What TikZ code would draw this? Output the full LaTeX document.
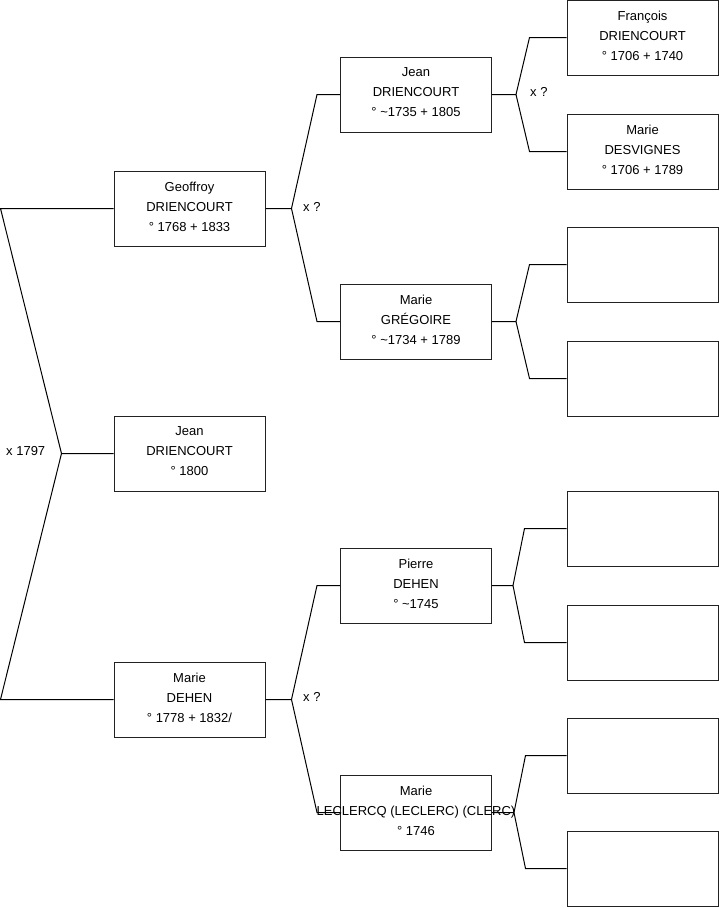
\documentclass[tikz,border=0pt]{standalone}
\usepackage{fontspec}
\setmainfont{Liberation Sans}
\usepackage{tikz}
\definecolor{boxline}{HTML}{222222}

\begin{document}
\begin{tikzpicture}[x=1pt,y=-1pt,font=\fontsize{13}{20}\selectfont,
        person/.style={draw=boxline,line width=1pt,minimum width=151pt,minimum height=75pt,
          inner sep=0pt,align=center,text depth=4pt},
        link/.style={line width=1pt,black}]
      \useasboundingbox (0,0) rectangle (719,908);
      \node[person] (g) at (189.5,208.5) {Geoffroy\\DRIENCOURT\\° 1768 + 1833};
      \node[person] (j) at (189.5,453.5) {Jean\\DRIENCOURT\\° 1800};
      \node[person] (md) at (189.5,699.5) {Marie\\DEHEN\\° 1778 + 1832/};
      \node[person] (jd) at (416,94.5) {Jean\\DRIENCOURT\\° \textasciitilde1735 + 1805};
      \node[person] (mg) at (416,321.5) {Marie\\GRÉGOIRE\\° \textasciitilde1734 + 1789};
      \node[person] (pd) at (416,585.5) {Pierre\\DEHEN\\° \textasciitilde1745};
      \node[person] (ml) at (416,812.5) {Marie\\\makebox[0pt][c]{LECLERCQ (LECLERC) (CLERC)}\\° 1746};
      \node[person] (fd) at (642.5,37.5) {François\\DRIENCOURT\\° 1706 + 1740};
      \node[person] (ms) at (642.5,151.5) {Marie\\DESVIGNES\\° 1706 + 1789};
      \node[person] (e1) at (642.5,264.5) {};
      \node[person] (e2) at (642.5,378.5) {};
      \node[person] (e3) at (642.5,528.5) {};
      \node[person] (e4) at (642.5,642.5) {};
      \node[person] (e5) at (642.5,755.5) {};
      \node[person] (e6) at (642.5,868.5) {};
      \node[anchor=west,inner sep=0pt] (m0) at (6,451) {x 1797};
      \node[anchor=west,inner sep=0pt] (m1) at (303,207) {x ?};
      \node[anchor=west,inner sep=0pt] (m2) at (303,697) {x ?};
      \node[anchor=west,inner sep=0pt] (m3) at (530,92) {x ?};
      \draw[link] (g.west) -- ([xshift=-113]g.west) -- ([xshift=-52]j.west) coordinate (k0)
        -- (j.west) (k0) -- ([xshift=-113]md.west) -- (md.west);
      \foreach \c/\f/\m/\a/\b in {g/jd/mg/26/23,md/pd/ml/26/23,jd/fd/ms/24/37,
          mg/e1/e2/24/37,pd/e3/e4/21/42,ml/e5/e6/22/41}
        \draw[link] (\c.east) -- ++(\a,0) coordinate (k) -- ([xshift=-\b]\f.west) -- (\f.west)
          (k) -- ([xshift=-\b]\m.west) -- (\m.west);
    \end{tikzpicture}
\end{document}
